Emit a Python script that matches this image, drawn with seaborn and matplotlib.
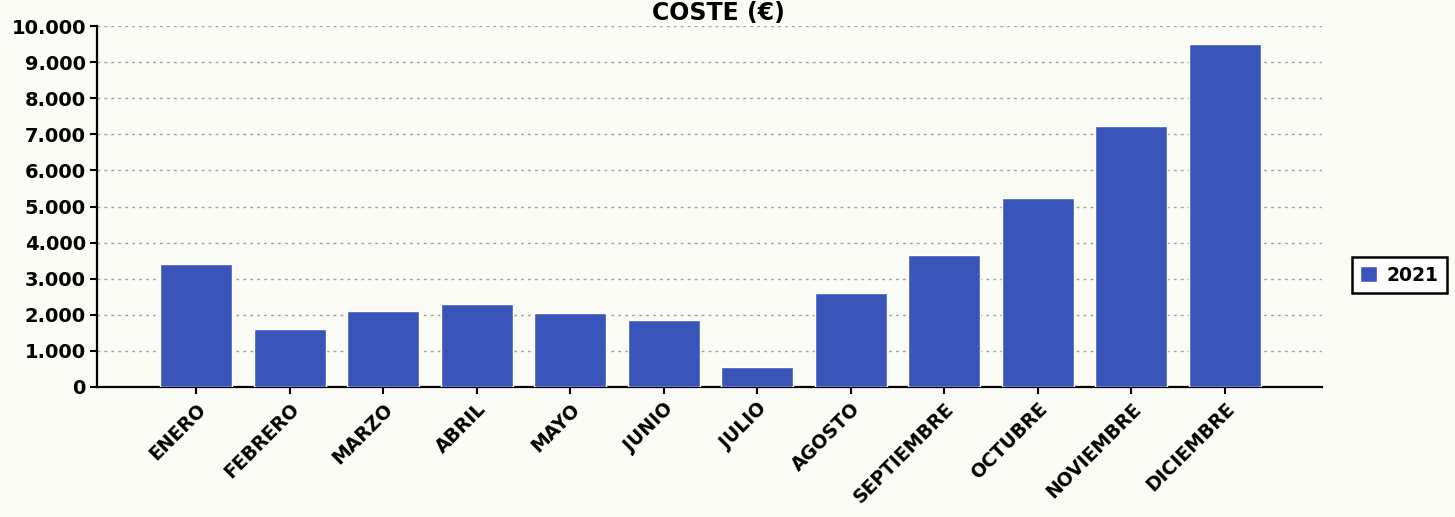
import matplotlib
matplotlib.use("Agg")
import matplotlib.pyplot as plt
from matplotlib.ticker import FuncFormatter, MultipleLocator
import pandas as pd
import seaborn as sns

# datos
meses = ["ENERO", "FEBRERO", "MARZO", "ABRIL", "MAYO", "JUNIO", "JULIO",
         "AGOSTO", "SEPTIEMBRE", "OCTUBRE", "NOVIEMBRE", "DICIEMBRE"]
coste = [3400, 1600, 2100, 2300, 2050, 1850, 550, 2600, 3650, 5230, 7230, 9500]
serie = ["2021"] * len(meses)

data = pd.DataFrame({"mes": meses, "coste": coste, "serie": serie})

fondo = "#fbfbf5"
azul = "#3a55b9"

sns.set_style("white")
plt.rcParams["font.family"] = ["DejaVu Sans"]
plt.rcParams["text.color"] = "black"
plt.rcParams["xtick.color"] = "black"
plt.rcParams["ytick.color"] = "black"

fig = plt.figure(figsize=(14.55, 5.17), dpi=100, facecolor=fondo)
ax = fig.add_axes([0.0667, 0.2515, 0.842, 0.698])
ax.set_facecolor(fondo)

sns.barplot(data=data, x="mes", y="coste", hue="serie", palette=[azul],
            width=0.77, saturation=1, ax=ax, zorder=3)

ax.set_ylim(0, 10000)
ax.set_xlim(-1.06, 12.04)
ax.yaxis.set_major_locator(MultipleLocator(1000))
ax.yaxis.set_major_formatter(FuncFormatter(lambda v, p: f"{int(v):,}".replace(",", ".")))
ax.grid(axis="y", color="#a0a0a0", linestyle=(0, (2, 3)), linewidth=1, zorder=0)
ax.set_xlabel("")
ax.set_ylabel("")

for s in ["top", "right"]:
    ax.spines[s].set_visible(False)
for s in ["left", "bottom"]:
    ax.spines[s].set_color("black")
    ax.spines[s].set_linewidth(1.6)

ax.tick_params(axis="y", left=True, length=5, width=1.5, labelsize=14, pad=3,
               labelcolor="black")
ax.tick_params(axis="x", bottom=True, length=5, width=1.5, labelsize=13.5, pad=4,
               labelcolor="black")
for t in ax.get_yticklabels():
    t.set_fontweight("bold")
for t in ax.get_xticklabels():
    t.set_fontweight("bold")
    t.set_rotation(45)
    t.set_ha("right")
    t.set_rotation_mode("anchor")

ax.legend(loc="center left", bbox_to_anchor=(0.9225, 0.468), bbox_transform=fig.transFigure,
          frameon=True, fancybox=False, edgecolor="black", framealpha=1, facecolor="white",
          handlelength=0.9, handleheight=0.9, handletextpad=0.5, borderpad=0.45,
          prop={"weight": "bold", "size": 13.5})
ax.get_legend().get_frame().set_linewidth(1.8)

fig.text(0.494, 0.999, "COSTE (€)", ha="center", va="top", fontsize=17, fontweight="bold")

fig.savefig("out.png", dpi=100, facecolor=fondo)
